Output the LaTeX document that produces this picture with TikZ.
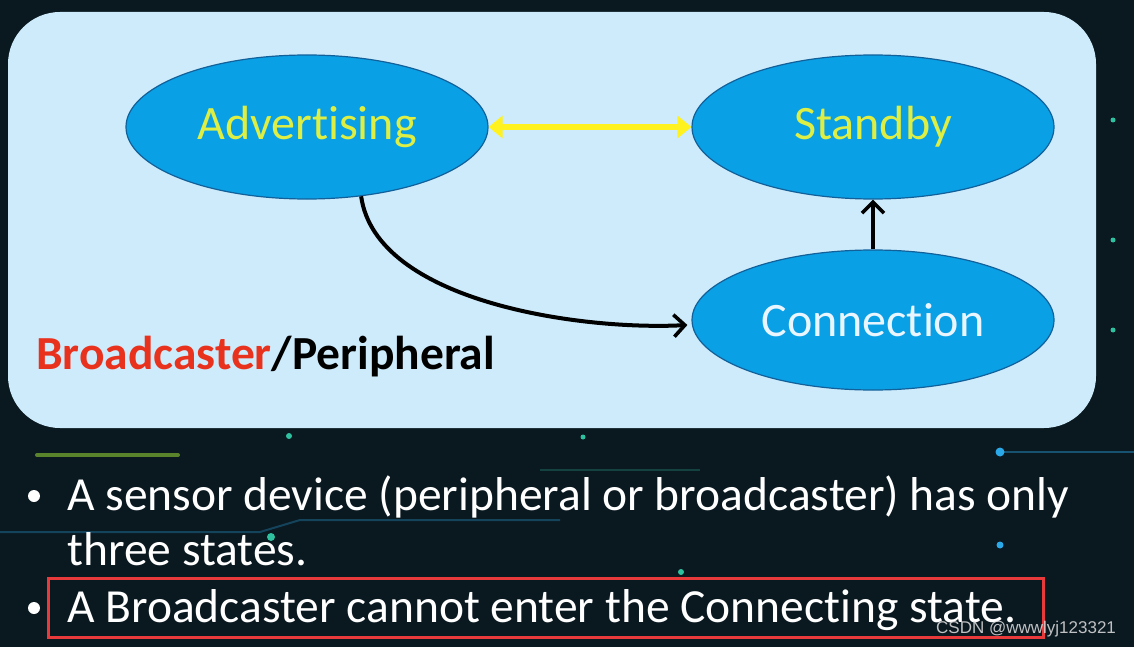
\documentclass[tikz,border=0pt]{standalone}
\usepackage{fontspec}
\setmainfont{Carlito}[Ligatures={NoCommon}]
\newfontfamily\wmfont{Liberation Sans}
\usetikzlibrary{shapes.geometric,arrows.meta}
\definecolor{bgdark}{HTML}{0A1820}
\definecolor{panel}{HTML}{CDEBFA}
\definecolor{ellfill}{HTML}{0AA0E6}
\definecolor{elldraw}{HTML}{12609A}
\definecolor{lbl}{HTML}{DDEE44}
\definecolor{conlbl}{HTML}{EAF6FF}
\definecolor{arrowyellow}{HTML}{FFF21E}
\definecolor{redtxt}{HTML}{E8321E}
\definecolor{boxred}{HTML}{E83A3A}
\definecolor{glowgreen}{HTML}{6FA030}
\definecolor{glowteal}{HTML}{2FC0A0}
\definecolor{glowblue}{HTML}{2AA8E8}
\tikzset{
  state/.style={ellipse, draw=elldraw, line width=1.2pt, fill=ellfill,
    minimum width=362pt, minimum height=144pt, inner sep=0pt,
    font=\fontsize{48}{56}\selectfont},
  bullettxt/.style={anchor=base west, text=white, inner sep=0pt,
    font=\fontsize{47.5}{56}\selectfont},
  bulletdot/.style={circle, fill=white, inner sep=0pt, minimum size=12pt},
  blackarrow/.style={draw=black, line width=4pt, -{Straight Barb[length=11pt,width=22pt,line width=3.6pt]}},
  glowdot/.style={circle, inner sep=0pt, minimum size=6pt},
}
\begin{document}
\begin{tikzpicture}[x=1pt,y=-1pt]
\useasboundingbox (0,0) rectangle (1134,647);
% background
\fill[bgdark] (0,0) rectangle (1134,647);
% faint circuit traces / glows
\draw[glowgreen, line width=4pt, line cap=round, opacity=0.8] (37,455) -- (178,455);
\draw[glowblue!40!bgdark, line width=2pt] (1000,452) -- (1134,452);
\draw[glowblue!30!bgdark, line width=2pt] (0,532) -- (260,532) -- (300,520) -- (560,520);
\draw[glowteal!25!bgdark, line width=1.5pt] (540,470) -- (700,470);
\node[glowdot, fill=glowteal] (d1) at (289,436) {};
\node[glowdot, fill=glowteal, minimum size=8pt] (d2) at (271,537) {};
\node[glowdot, fill=glowteal] (d3) at (681,572) {};
\node[glowdot, fill=glowblue, minimum size=9pt] (d4) at (1000,452) {};
\node[glowdot, fill=glowblue, minimum size=7pt] (d5) at (1000,545) {};
\node[glowdot, fill=glowteal, minimum size=5pt] (d6) at (1113,120) {};
\node[glowdot, fill=glowteal, minimum size=5pt] (d7) at (1113,240) {};
\node[glowdot, fill=glowteal, minimum size=5pt] (d8) at (1113,330) {};
\node[glowdot, fill=glowteal, minimum size=5pt] (d9) at (583,437) {};
% panel
\fill[panel, rounded corners=52pt] (8,12) rectangle (1096,428);
% states
\node[state, text=lbl] (adv) at (307,127) {Advertising};
\node[state, text=lbl] (stb) at (873,127) {Standby};
\node[state, text=conlbl, minimum height=140pt] (con) at (873,320) {Connection};
% connectors
\draw[arrowyellow, line width=5.5pt, {Triangle[length=14pt,width=22pt]}-{Triangle[length=14pt,width=22pt]}] (adv.east) -- (stb.west);
\draw[blackarrow] (adv.-52) to[out=-82, in=183, looseness=0.78] ([xshift=-4pt,yshift=-5pt]con.west);
\draw[blackarrow] (con.north) -- (stb.south);
% label
\node[anchor=base west, inner sep=0pt, font=\bfseries\fontsize{47.5}{54}\selectfont] (bp) at (36,369) {\textcolor{redtxt}{Broadcaster}/\textcolor{black}{Peripheral}};
% bullets
\node[bulletdot] (b1) at (34,496) {};
\node[bullettxt] (t1) at (67,510) {A sensor device (peripheral or broadcaster) has only};
\node[bullettxt] (t2) at (67,565) {three states.};
\node[bulletdot] (b2) at (34,608) {};
\node[bullettxt] (t3) at (67,622) {A Broadcaster cannot enter the Connecting state.};
% highlight box
\draw[boxred, line width=3pt] (48,578) rectangle (1043,637);
% watermark
\node[anchor=base west, inner sep=0pt, text=white!75!gray, opacity=0.85, font=\wmfont\fontsize{17}{20}\selectfont] (wm) at (936,633) {CSDN @wwwlyj123321};
\end{tikzpicture}
\end{document}
